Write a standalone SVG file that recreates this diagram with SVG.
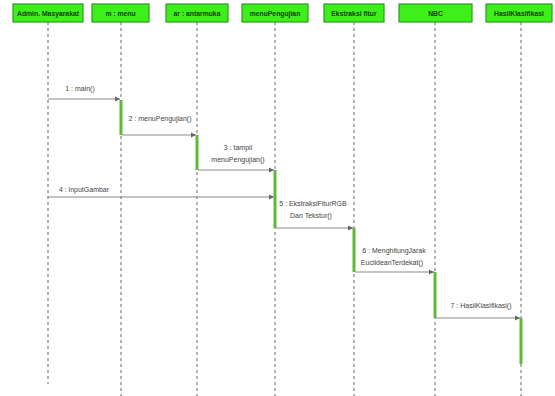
<svg xmlns="http://www.w3.org/2000/svg" width="555" height="396" viewBox="0 0 555 396">
<defs>
<marker id="ah" markerWidth="6" markerHeight="6" refX="5" refY="3" orient="auto" markerUnits="userSpaceOnUse">
<path d="M0,0.5 L5,3 L0,5.5 Z" fill="#666"/>
</marker>
<style>
.hdr{fill:#3ef01a;stroke:#2f9a22;stroke-width:1.2}
.ht{font-family:"Liberation Sans",Arial,sans-serif;font-size:6.8px;font-weight:bold;fill:#1a3a10;text-anchor:middle}
.life{stroke:#666;stroke-width:1;stroke-dasharray:3,3}
.act{fill:#5dbb3a;stroke:none}
.msg{stroke:#8a8a8a;stroke-width:1.2;fill:none}
.lbl{font-family:"Liberation Sans",Arial,sans-serif;font-size:7px;fill:#444;text-anchor:middle}
</style>
</defs>
<rect width="555" height="396" fill="#fff"/>
<g id="lifelines">
<line class="life" x1="48" y1="22" x2="48" y2="384"/>
<line class="life" x1="121" y1="22" x2="121" y2="396"/>
<line class="life" x1="197" y1="22" x2="197" y2="396"/>
<line class="life" x1="275" y1="22" x2="275" y2="396"/>
<line class="life" x1="354" y1="22" x2="354" y2="396"/>
<line class="life" x1="435" y1="22" x2="435" y2="396"/>
<line class="life" x1="521" y1="22" x2="521" y2="396"/>
</g>
<g id="admin"><rect class="hdr" x="13" y="4" width="70" height="18"/><text class="ht" x="48" y="15.5">Admin. Masyarakat</text></g>
<g id="menu"><rect class="hdr" x="92" y="4" width="57" height="18"/><text class="ht" x="120.5" y="15.5">m : menu</text></g>
<g id="antarmuka"><rect class="hdr" x="166" y="4" width="62" height="18"/><text class="ht" x="197" y="15.5">ar : antarmuka</text></g>
<g id="menuPengujian"><rect class="hdr" x="242" y="4" width="66" height="18"/><text class="ht" x="275" y="15.5">menuPengujian</text></g>
<g id="ekstraksi"><rect class="hdr" x="324" y="4" width="60" height="18"/><text class="ht" x="354" y="15.5">Ekstraksi fitur</text></g>
<g id="nbc"><rect class="hdr" x="399" y="4" width="73" height="18"/><text class="ht" x="435.5" y="15.5">NBC</text></g>
<g id="hasil"><rect class="hdr" x="486" y="4" width="66" height="18"/><text class="ht" x="519" y="15.5">HasilKlasifikasi</text></g>
<g id="activations">
<rect class="act" x="119.5" y="100" width="3" height="35"/>
<rect class="act" x="195.5" y="135" width="3" height="35"/>
<rect class="act" x="273.5" y="170" width="3" height="58"/>
<rect class="act" x="352.5" y="228" width="3" height="44"/>
<rect class="act" x="433.5" y="272" width="3" height="46"/>
<rect class="act" x="519.5" y="318" width="3" height="46"/>
</g>
<g id="connectors">
<line class="msg" x1="48" y1="99" x2="120" y2="99" marker-end="url(#ah)"/>
<line class="msg" x1="122" y1="135" x2="196" y2="135" marker-end="url(#ah)"/>
<line class="msg" x1="198" y1="170" x2="274" y2="170" marker-end="url(#ah)"/>
<line class="msg" x1="48" y1="197" x2="274" y2="197" marker-end="url(#ah)"/>
<line class="msg" x1="276" y1="228" x2="353" y2="228" marker-end="url(#ah)"/>
<line class="msg" x1="355" y1="272" x2="434" y2="272" marker-end="url(#ah)"/>
<line class="msg" x1="436" y1="318" x2="520" y2="318" marker-end="url(#ah)"/>
</g>
<g id="labels">
<text class="lbl" x="80" y="91">1 : main()</text>
<text class="lbl" x="160" y="121">2 : menuPengujian()</text>
<text class="lbl" x="238" y="150">3 : tampil</text>
<text class="lbl" x="238" y="162">menuPengujian()</text>
<text class="lbl" x="84" y="192">4 : inputGambar</text>
<text class="lbl" x="313" y="206">5 : EkstraksiFiturRGB</text>
<text class="lbl" x="311" y="218">Dan Tekstur()</text>
<text class="lbl" x="394" y="253">6 : MenghitungJarak</text>
<text class="lbl" x="392" y="265">EuclideanTerdekat()</text>
<text class="lbl" x="481" y="308">7 : HasilKlasifikasi()</text>
</g>
</svg>
